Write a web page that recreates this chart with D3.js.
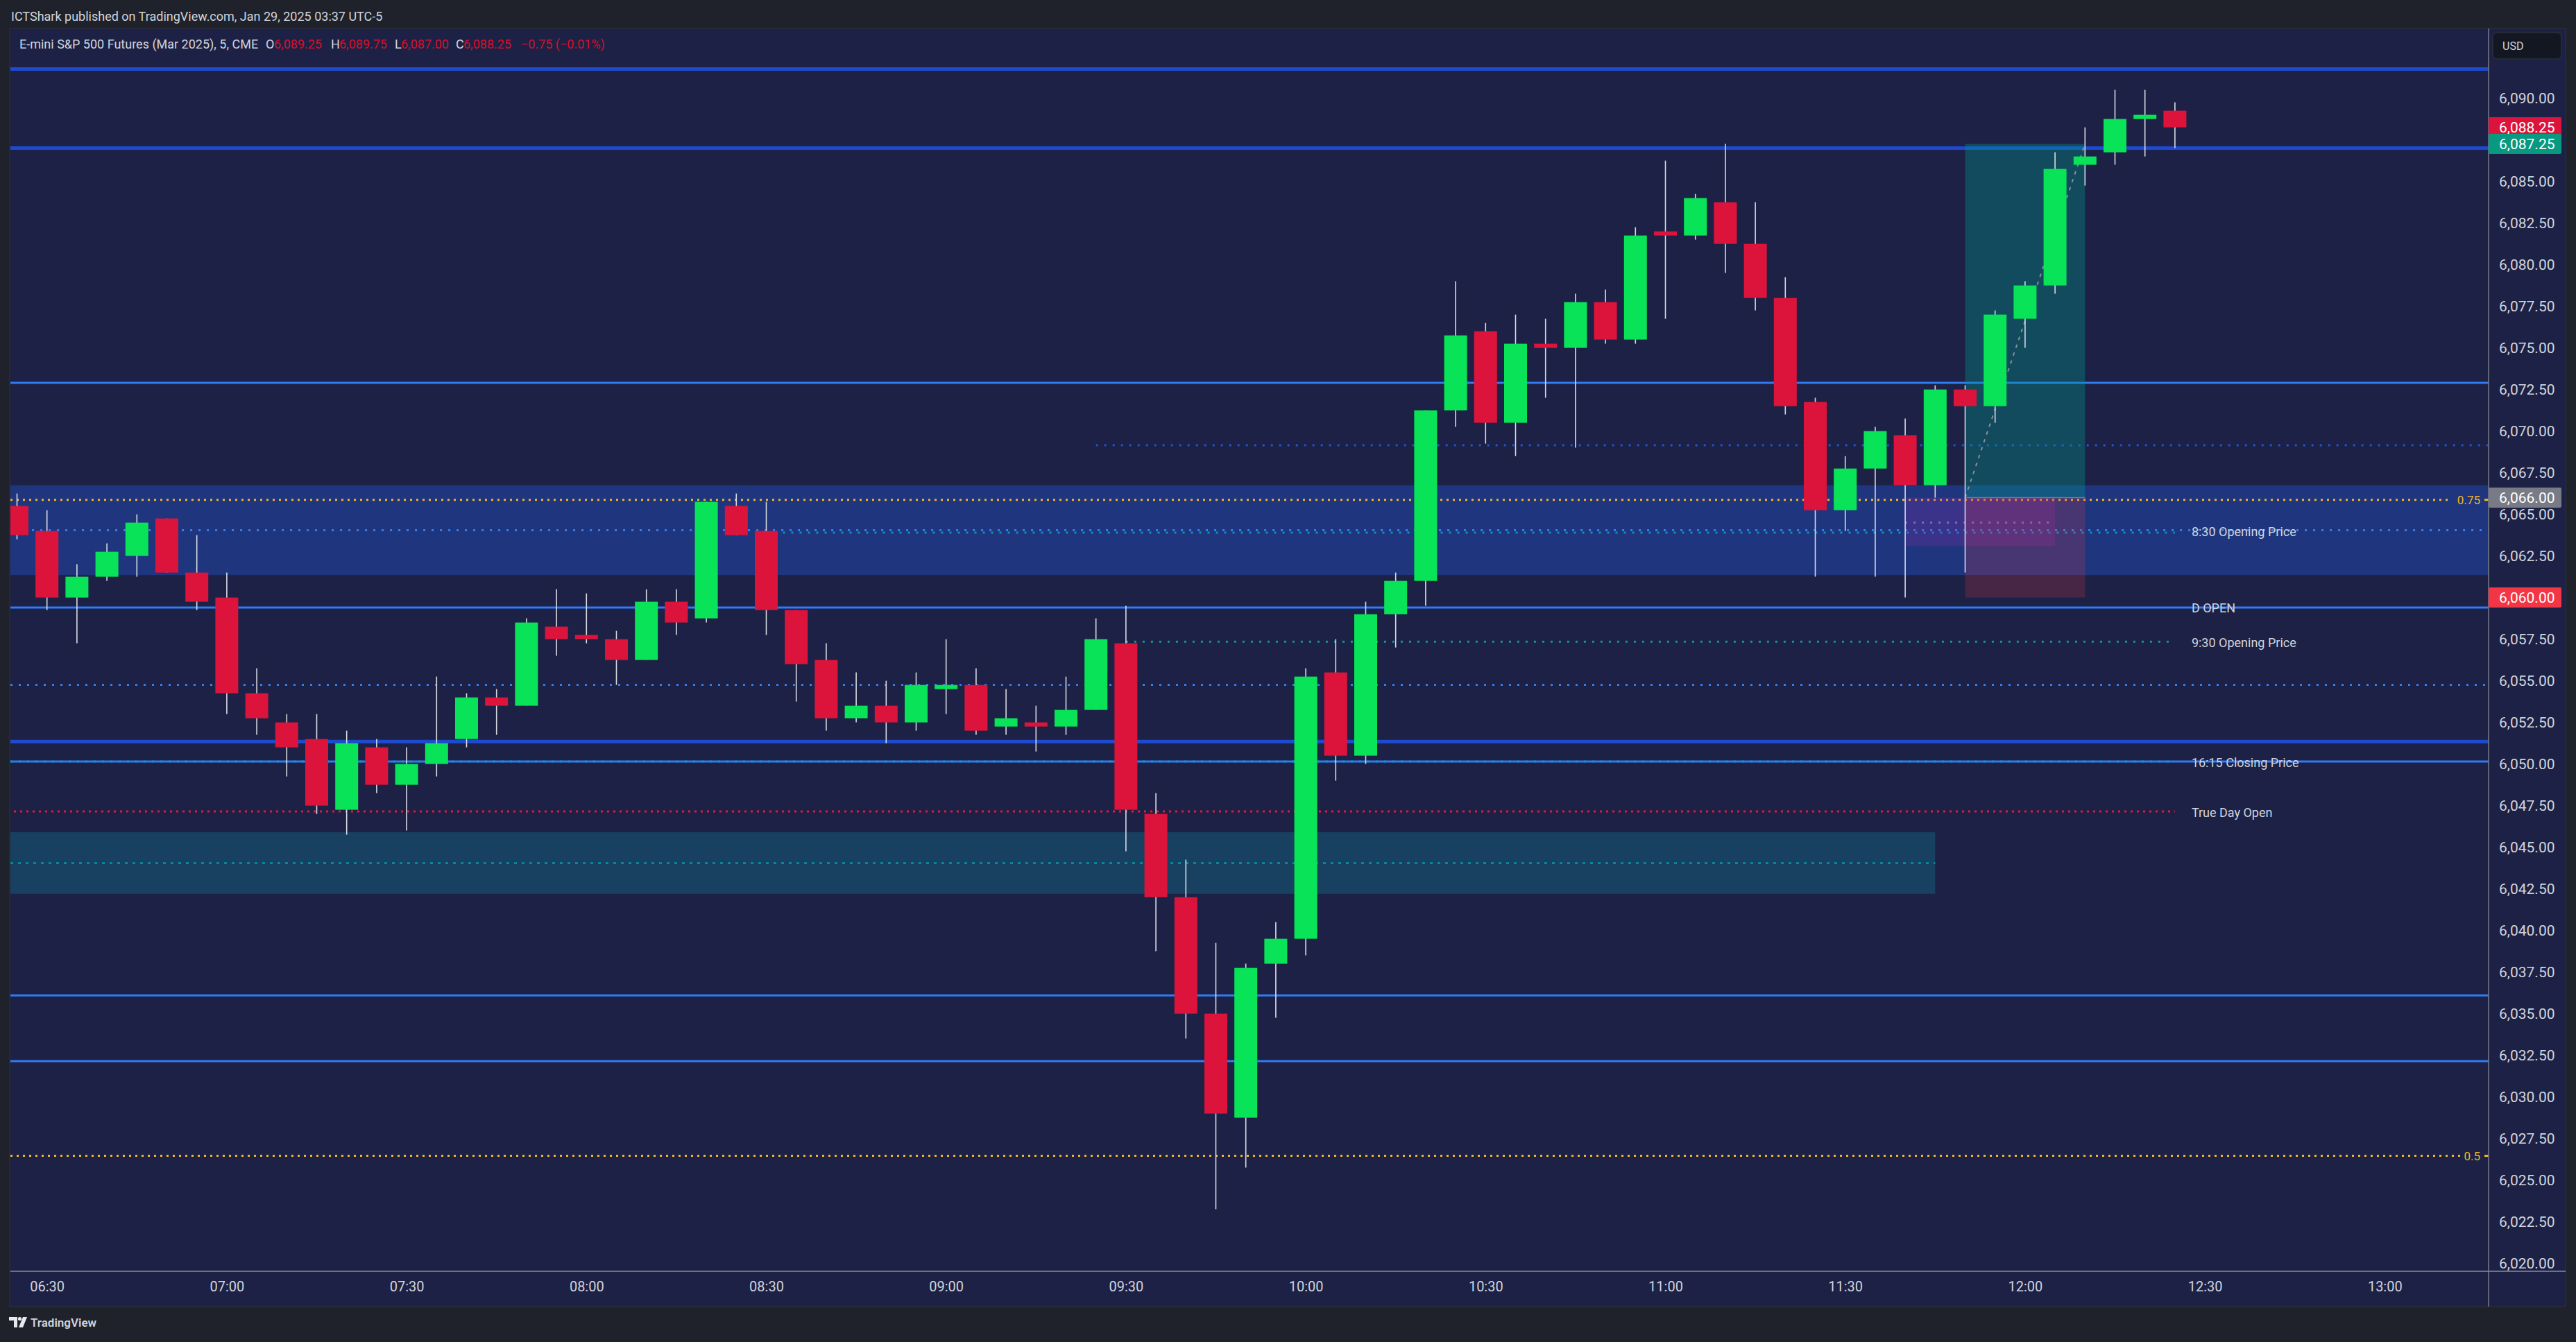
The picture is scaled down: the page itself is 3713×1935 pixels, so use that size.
<!DOCTYPE html>
<html><head><meta charset="utf-8">
<script src="https://cdn.jsdelivr.net/npm/d3@7"></script>
<style>html,body{margin:0;padding:0;background:#1f222b;overflow:hidden}svg{display:block}</style>
</head><body>
<svg id="c" width="3713" height="1935"></svg>
<script>
// ---------------- DATA ----------------
const opens = [6065.5,6064,6060,6061.25,6062.5,6064.75,6061.5,6060,6054.25,6052.5,
 6051.5,6047.25,6051,6048.75,6050,6051.5,6054,6053.5,6058.25,6057.75,
 6057.5,6056.25,6059.75,6058.75,6065.5,6064,6059.25,6056.25,6052.75,6053.5,
 6052.5,6054.5,6054.75,6052.25,6052.5,6052.25,6053.25,6057.25,6047,6042,
 6035,6028.75,6038,6039.5,6055.5,6050.5,6059,6061,6071.25,6076,
 6070.5,6075.25,6075,6077.75,6075.5,6082,6081.75,6083.75,6081.25,6078,
 6071.75,6065.25,6067.75,6069.75,6066.75,6072.5,6071.5,6076.75,6078.75,6086,
 6086.75,6088.75,6089.25];
const highs = [6066.25,6065.25,6062,6063.25,6065,6064.75,6063.75,6061.5,6055.75,6053,
 6053,6052,6051.5,6051,6055.25,6054.25,6054.5,6058.75,6060.5,6060.25,
 6058,6060.5,6060.5,6065.75,6066.25,6065.75,6059.25,6057.25,6055.5,6055,
 6055.5,6057.5,6055.75,6054.5,6053.5,6055.25,6058.75,6059.5,6048.25,6044.25,
 6039.25,6038,6040.5,6055.75,6057.5,6059.75,6061.5,6071.25,6079,6076.5,
 6077,6076.75,6078.25,6078.5,6082.25,6086.25,6084.25,6087.25,6083.75,6079.25,
 6072,6068.5,6070.25,6070.75,6072.75,6072.75,6077.25,6079,6086.75,6088.25,
 6090.5,6090.5,6089.75];
const lows = [6063.5,6059.25,6057.25,6061,6061.25,6061.5,6059.25,6053,6051.75,6049.25,
 6047,6045.75,6048.25,6046,6049.25,6051,6051.75,6053.5,6056.5,6057.25,
 6054.75,6056.25,6057.75,6058.5,6063.75,6057.75,6053.75,6052,6052.5,6051.25,
 6052,6053,6051.75,6051.75,6050.75,6051.75,6053.25,6044.75,6038.75,6033.5,
 6023.25,6025.75,6034.75,6038.5,6049,6050,6057,6059.5,6070.25,6069.25,
 6068.5,6072,6069,6075.25,6075.25,6076.75,6081.5,6079.5,6077.25,6071,
 6061.25,6064,6061.25,6060,6066,6061.5,6070.5,6075,6078.25,6084.75,
 6086,6086.5,6087];
const closes = [6063.75,6060,6061.25,6062.75,6064.5,6061.5,6059.75,6054.25,6052.75,6051,
 6047.5,6051.25,6048.75,6050,6051.25,6054,6053.5,6058.5,6057.5,6057.5,
 6056.25,6059.75,6058.5,6065.75,6063.75,6059.25,6056,6052.75,6053.5,6052.5,
 6054.75,6054.75,6052,6052.75,6052.25,6053.25,6057.5,6047.25,6042,6035,
 6029,6037.75,6039.5,6055.25,6050.5,6059,6061,6071.25,6075.75,6070.5,
 6075.25,6075,6077.75,6075.5,6081.75,6081.75,6084,6081.25,6078,6071.5,
 6065.25,6067.75,6070,6066.75,6072.5,6071.5,6077,6078.75,6085.75,6086.5,
 6088.75,6089,6088.25];

const timeTickIndex = [1,7,13,19,25,31,37,43,49,55,61,67,73,79];
const timeTickLabels = ["06:30","07:00","07:30","08:00","08:30","09:00","09:30","10:00","10:30","11:00","11:30","12:00","12:30","13:00"];
const priceTicks = [6020,6022.5,6025,6027.5,6030,6032.5,6035,6037.5,6040,6042.5,6045,6047.5,6050,6052.5,6055,6057.5,6060,6062.5,6065,6067.5,6070,6072.5,6075,6077.5,6080,6082.5,6085,6087.5,6090];

// horizontal levels
const thickLevels = [6091.75, 6087.0, 6051.35];
const solidLevels = [6072.9, 6059.4, 6050.15, 6036.1, 6032.15];
const blueDotLevels = [6069.15, 6064.05, 6054.75];
const blueDotStart = [36, 0.5, -1];
const tealDotLevels = [6063.9, 6057.35, 6050.15];
const tealDotStart = [25, 37, -1];
const trueDayOpen = 6047.15;
const levelEnd = 72;
const rangeZone = [6066.75, 6061.35];
const fvgZone = [6045.9, 6042.2];
const fvgMid = 6044.05;
const fvgEnd = 64;
const fibLevels = [6065.87, 6026.46];
const fibLabels = ["0.75", "0.5"];
const annoTexts = ["8:30 Opening Price","D OPEN","9:30 Opening Price","16:15 Closing Price","True Day Open"];
const annoPrices = [6063.95, 6059.4, 6057.3, 6050.1, 6047.1];
// position tool
const posStart = 65, posEnd = 69;
const posEntry = 6066.0, posTarget = 6087.25, posStop = 6060.0;
const purpleBox = [6066.0, 6063.1]; const purpleStart = 63, purpleEnd = 68, purpleMid = 6064.5;
// axis markers
const markerPrices = [6088.25, 6087.25, 6066.0, 6060.0];
const markerColors = ["#dc143c", "#089981", "#787b86", "#f23645"];

// ---------------- LAYOUT ----------------
const W = 3713, H = 1935;
const PL = 15, PR = 3587, PT = 41, PB = 1833, paneR = 3698, paneB = 1884;
const x = d3.scaleLinear().domain([0, 79]).range([24.5, 24.5 + 79 * 43.2]);
const y = d3.scaleLinear().domain([6020, 6090]).range([141.6 + 70 * 24, 141.6]);
const BW = 33;
const FONT = "Roboto, 'Noto Sans', sans-serif";
const fmt = d3.format(",.2f");

const svg = d3.select("#c");
svg.append("rect").attr("width", W).attr("height", H).attr("fill", "#1f222b");
svg.append("rect").attr("x", 14).attr("y", PT).attr("width", paneR - 14).attr("height", paneB - PT)
  .attr("fill", "#1d2145").attr("stroke", "#2a2e39").attr("stroke-width", 1.5);

const defs = svg.append("defs");
defs.append("clipPath").attr("id", "plot").append("rect").attr("x", PL).attr("y", PT).attr("width", PR - PL).attr("height", PB - PT);
defs.append("clipPath").attr("id", "yax").append("rect").attr("x", PR).attr("y", PT).attr("width", paneR - PR).attr("height", PB - PT);

// header
svg.append("text").attr("x", 16).attr("y", 23).attr("dominant-baseline", "central")
  .attr("font-family", FONT).attr("font-size", 18).attr("fill", "#d1d4dc")
  .text("ICTShark published on TradingView.com, Jan 29, 2025 03:37 UTC-5");

const plot = svg.append("g").attr("clip-path", "url(#plot)");

// zones
plot.append("rect").attr("x", PL).attr("width", PR - PL)
  .attr("y", y(rangeZone[0])).attr("height", y(rangeZone[1]) - y(rangeZone[0])).attr("fill", "#1f367e");
plot.append("rect").attr("x", PL).attr("width", x(fvgEnd) - PL)
  .attr("y", y(fvgZone[0])).attr("height", y(fvgZone[1]) - y(fvgZone[0])).attr("fill", "#184060");
plot.append("line").attr("x1", PL).attr("x2", x(fvgEnd)).attr("y1", y(fvgMid)).attr("y2", y(fvgMid))
  .attr("stroke", "#0097a7").attr("stroke-width", 2.5).attr("stroke-dasharray", "4 7");

// fib dotted lines
fibLevels.forEach((p, i) => {
  plot.append("line").attr("x1", PL).attr("x2", PR - (i === 0 ? 54 : 40)).attr("y1", y(p)).attr("y2", y(p))
    .attr("stroke", "#f2b526").attr("stroke-width", 3).attr("stroke-dasharray", "3 6");
  plot.append("line").attr("x1", PR - 6).attr("x2", PR).attr("y1", y(p)).attr("y2", y(p))
    .attr("stroke", "#f2b526").attr("stroke-width", 3);
});

// thick and solid lines
thickLevels.forEach(p => plot.append("line").attr("x1", PL).attr("x2", PR).attr("y1", y(p)).attr("y2", y(p))
  .attr("stroke", "#1c4ad0").attr("stroke-width", 5));
solidLevels.forEach(p => plot.append("line").attr("x1", PL).attr("x2", PR).attr("y1", y(p)).attr("y2", y(p))
  .attr("stroke", "#2f7bf5").attr("stroke-width", 3));

// dotted blue
blueDotLevels.forEach((p, i) => plot.append("line").attr("x1", Math.max(PL, x(blueDotStart[i]))).attr("x2", PR)
  .attr("y1", y(p)).attr("y2", y(p)).attr("stroke", i === 0 ? "#1f55d6" : "#2f7ff6")
  .attr("stroke-width", 3).attr("stroke-dasharray", "3 9"));
// dotted teal
tealDotLevels.forEach((p, i) => plot.append("line").attr("x1", Math.max(PL, x(tealDotStart[i]))).attr("x2", x(levelEnd))
  .attr("y1", y(p)).attr("y2", y(p)).attr("stroke", "#0a97a3")
  .attr("stroke-width", 3).attr("stroke-dasharray", "3 9"));
// true day open
plot.append("line").attr("x1", PL + 5).attr("x2", x(levelEnd)).attr("y1", y(trueDayOpen)).attr("y2", y(trueDayOpen))
  .attr("stroke", "#e0193f").attr("stroke-width", 3).attr("stroke-dasharray", "3 6");

// purple box
plot.append("rect").attr("x", x(purpleStart)).attr("width", x(purpleEnd) - x(purpleStart))
  .attr("y", y(purpleBox[0])).attr("height", y(purpleBox[1]) - y(purpleBox[0]))
  .attr("fill", "rgba(156,39,176,0.22)");
plot.append("line").attr("x1", x(purpleStart)).attr("x2", x(purpleEnd)).attr("y1", y(purpleMid)).attr("y2", y(purpleMid))
  .attr("stroke", "#8b5fd0").attr("stroke-width", 3).attr("stroke-dasharray", "3 9");

// position tool
plot.append("rect").attr("x", x(posStart)).attr("width", x(posEnd) - x(posStart))
  .attr("y", y(posTarget)).attr("height", y(posEntry) - y(posTarget)).attr("fill", "rgba(0,150,136,0.36)");
plot.append("rect").attr("x", x(posStart)).attr("width", x(posEnd) - x(posStart))
  .attr("y", y(posEntry)).attr("height", y(posStop) - y(posEntry)).attr("fill", "rgba(242,54,69,0.2)");
plot.append("line").attr("x1", x(posStart)).attr("x2", x(posEnd)).attr("y1", y(posEntry)).attr("y2", y(posEntry))
  .attr("stroke", "#787b86").attr("stroke-width", 1.5);
plot.append("line").attr("x1", x(posStart)).attr("x2", x(posEnd)).attr("y1", y(posEntry)).attr("y2", y(posTarget))
  .attr("stroke", "#8a8d96").attr("stroke-width", 2).attr("stroke-dasharray", "5 7");

// candles
const bars = opens.map((o, i) => ({ i, o, h: highs[i], l: lows[i], c: closes[i] }));
const cg = plot.append("g");
cg.selectAll("line.w").data(bars).join("line").attr("class", "w")
  .attr("x1", d => x(d.i)).attr("x2", d => x(d.i)).attr("y1", d => y(d.h)).attr("y2", d => y(d.l))
  .attr("stroke", "#d8dbe3").attr("stroke-width", 1.6);
cg.selectAll("rect.b").data(bars).join("rect").attr("class", "b")
  .attr("x", d => x(d.i) - BW / 2).attr("width", BW)
  .attr("y", d => y(Math.max(d.o, d.c))).attr("height", d => Math.max(2, Math.abs(y(d.o) - y(d.c))))
  .attr("fill", d => d.c >= d.o ? "#09e357" : "#dc143c");

// annotation labels
annoTexts.forEach((t, i) => svg.append("text").attr("x", x(levelEnd) + 24).attr("y", y(annoPrices[i]))
  .attr("dominant-baseline", "central").attr("font-family", FONT).attr("font-size", 18).attr("fill", "#d1d4dc").text(t));
fibLabels.forEach((t, i) => svg.append("text").attr("x", PR - 12).attr("y", y(fibLevels[i]))
  .attr("text-anchor", "end").attr("dominant-baseline", "central").attr("font-family", FONT).attr("font-size", 17)
  .attr("fill", "#f2b526").text(t));

// legend
const lg = svg.append("text").attr("y", 63).attr("dominant-baseline", "central").attr("font-family", FONT).attr("font-size", 18);
const RED = "#d5102b", LT = "#d1d4dc";
[["E-mini S&P 500 Futures (Mar 2025), 5, CME", 28, LT], ["O", 383, LT], ["6,089.25", 395, RED], ["H", 477, LT], ["6,089.75", 489, RED],
 ["L", 569, LT], ["6,087.00", 578, RED], ["C", 657, LT], ["6,088.25", 668, RED], ["\u22120.75 (\u22120.01%)", 751, RED]]
  .forEach(s => lg.append("tspan").attr("x", s[1]).attr("fill", s[2]).text(s[0]));

// axes lines
svg.append("line").attr("x1", PR).attr("x2", PR).attr("y1", PT).attr("y2", paneB).attr("stroke", "#787b86").attr("stroke-width", 1.5);
svg.append("line").attr("x1", PL).attr("x2", paneR).attr("y1", PB).attr("y2", PB).attr("stroke", "#8a8d99").attr("stroke-width", 1.5);

// y axis
const ya = svg.append("g").attr("clip-path", "url(#yax)").append("g").attr("transform", `translate(${PR},0)`)
  .call(d3.axisRight(y).tickValues(priceTicks).tickSize(0).tickPadding(15).tickFormat(fmt));
ya.select(".domain").remove();
ya.selectAll("text").attr("font-family", FONT).attr("font-size", 21).attr("fill", "#d1d4dc");

// x axis
const xa = svg.append("g").attr("transform", `translate(0,${PB})`)
  .call(d3.axisBottom(x).tickValues(timeTickIndex).tickSize(0).tickPadding(15).tickFormat((d, i) => timeTickLabels[i]));
xa.select(".domain").remove();
xa.selectAll("text").attr("font-family", FONT).attr("font-size", 20).attr("fill", "#d1d4dc");

// axis markers
const mk = svg.append("g").selectAll("g").data(markerPrices).join("g").attr("transform", d => `translate(${PR},${y(d)})`);
mk.append("rect").attr("x", 0).attr("y", -14.5).attr("width", 105).attr("height", 29).attr("rx", 2)
  .attr("fill", (d, i) => markerColors[i]);
mk.append("text").attr("x", 15).attr("dominant-baseline", "central").attr("font-family", FONT).attr("font-size", 21)
  .attr("fill", "#ffffff").text(d => fmt(d));

// USD box
svg.append("rect").attr("x", 3593).attr("y", 47).attr("width", 99).attr("height", 38).attr("rx", 6)
  .attr("fill", "#131722").attr("stroke", "#2a2e39").attr("stroke-width", 1.5);
svg.append("text").attr("x", 3607).attr("y", 66).attr("dominant-baseline", "central").attr("font-family", FONT)
  .attr("font-size", 16).attr("fill", "#d1d4dc").text("USD");

// footer logo
const lgo = svg.append("g").attr("fill", "#e8e9ee");
lgo.append("path").attr("d", "M13,1899 h12 v15 h-5 v-10 h-7 z");
lgo.append("circle").attr("cx", 28.5).attr("cy", 1901.5).attr("r", 2.6);
lgo.append("path").attr("d", "M33,1899 h6 l-6,15 h-6 z");
svg.append("text").attr("x", 44).attr("y", 1907).attr("dominant-baseline", "central").attr("font-family", FONT)
  .attr("font-size", 17).attr("font-weight", 600).attr("fill", "#d1d4dc").text("TradingView");
</script>
</body></html>
